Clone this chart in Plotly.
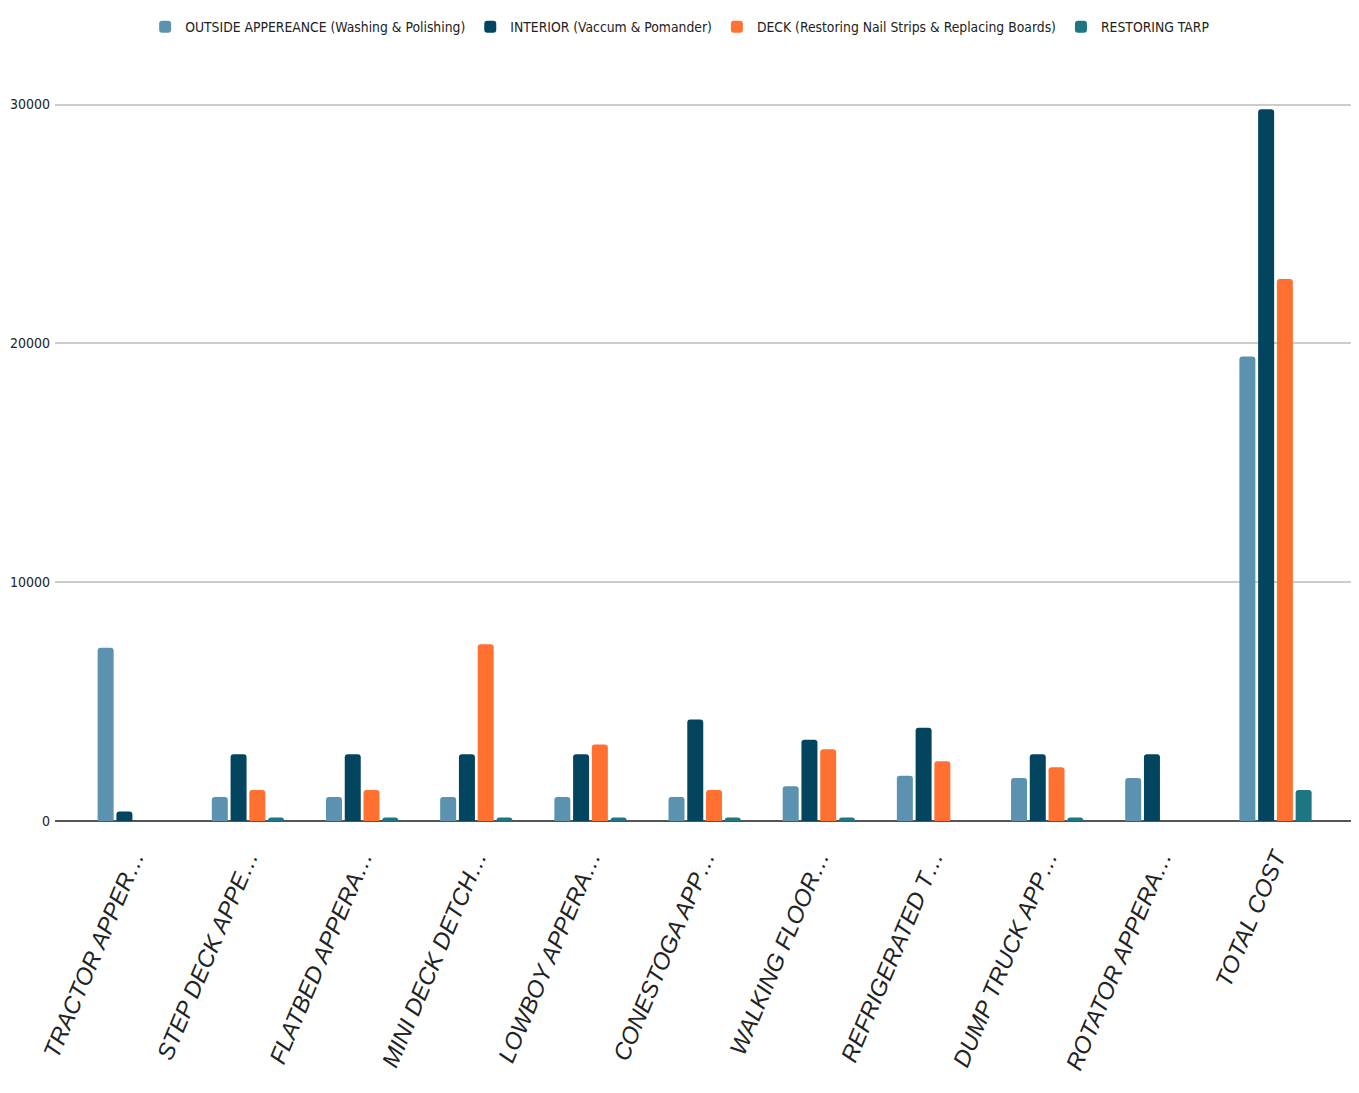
import plotly.graph_objects as go

categories = ["TRACTOR APPER…", "STEP DECK APPE…", "FLATBED APPERA…", "MINI DECK DETCH…",
              "LOWBOY APPERA…", "CONESTOGA APP…", "WALKING FLOOR…", "REFRIGERATED T…",
              "DUMP TRUCK APP…", "ROTATOR APPERA…", "TOTAL COST"]

outside = [7250, 1000, 1000, 1000, 1000, 1000, 1450, 1900, 1800, 1800, 19450]
interior = [400, 2800, 2800, 2800, 2800, 4250, 3400, 3900, 2800, 2800, 29800]
deck = [None, 1300, 1300, 7400, 3200, 1300, 3000, 2500, 2250, None, 22700]
tarp = [None, 150, 150, 150, 150, 150, 150, None, 150, None, 1300]

series_names = ["OUTSIDE APPEREANCE (Washing & Polishing)", "INTERIOR (Vaccum & Pomander)",
                "DECK (Restoring Nail Strips & Replacing Boards)", "RESTORING TARP"]
series_values = [outside, interior, deck, tarp]
colors = ["#5a92b0", "#03455f", "#ff7031", "#1d7682"]

y_ticks = [0, 10000, 20000, 30000]

NARROW = "DejaVu Sans Condensed, Liberation Sans Narrow, Liberation Sans, Arial, sans-serif"

fig = go.Figure()
for name, vals, col in zip(series_names, series_values, colors):
    fig.add_trace(go.Bar(x=categories, y=vals, name=name, marker_color=col,
                         marker_line_width=0))

fig.update_layout(
    width=1359, height=1093,
    margin=dict(l=47, r=15, t=87, b=280, autoexpand=False),
    paper_bgcolor="white", plot_bgcolor="white",
    barmode="group", bargap=0.343, bargroupgap=0.147,
    barcornerradius=3,
    font=dict(family=NARROW, color="#222222"),
    legend=dict(orientation="h", x=0.482, xanchor="center", y=1.094, yanchor="middle",
                font=dict(size=13.8, family=NARROW, color="#222222"),
                itemwidth=30, itemsizing="constant", tracegroupgap=0),
    showlegend=True,
)
fig.update_xaxes(
    range=[-0.69, 10.67], showgrid=False, ticks="", automargin=False,
    tickangle=-67, ticklabelstandoff=17,
    tickvals=categories, ticktext=["<i>" + c + "</i>" for c in categories],
    tickfont=dict(size=23.5, family="Liberation Sans, Arial, sans-serif", color="#222222"),
    showline=False, zeroline=False,
)
fig.update_yaxes(
    range=[0, 30400], tickvals=y_ticks, ticktext=[str(v) for v in y_ticks],
    showgrid=True, gridcolor="#cccccc", gridwidth=2, automargin=False,
    zeroline=True, zerolinecolor="#555555", zerolinewidth=2,
    tickfont=dict(size=14, family=NARROW, color="#222222"),
    ticks="", ticklabelstandoff=4,
)

fig.write_html("out.html")
